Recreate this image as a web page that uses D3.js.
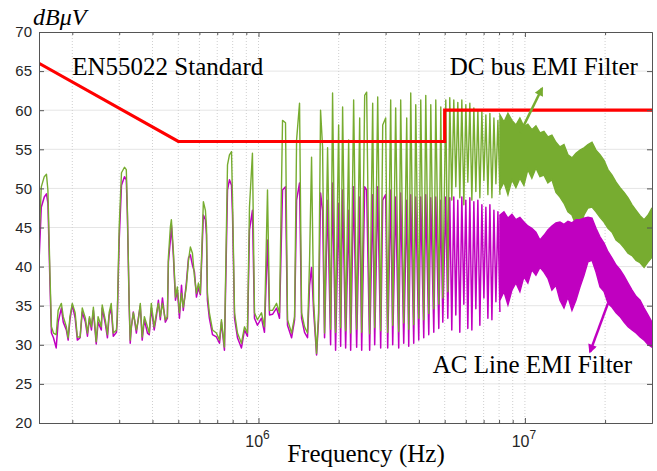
<!DOCTYPE html>
<html>
<head>
<meta charset="utf-8">
<script src="https://cdn.jsdelivr.net/npm/d3@7"></script>
<style>
  body { margin: 0; background: #fff; }
  svg { display: block; }
</style>
</head>
<body>
<svg id="chart" width="657" height="471"></svg>
<script>
// ---- data (frequency in MHz, level in dBuV) ----
const freqMHz = [
  0.150,0.153,0.157,0.160,0.162,0.165,0.167,0.170,0.174,0.177,
  0.182,0.185,0.190,0.193,0.196,0.200,0.205,0.209,0.214,0.218,
  0.224,0.228,0.232,0.236,0.240,0.246,0.250,0.257,0.259,0.266,
  0.271,0.275,0.280,0.285,0.293,0.295,0.300,0.306,0.314,0.319,
  0.322,0.327,0.330,0.333,0.339,0.348,0.354,0.360,0.366,0.373,
  0.383,0.389,0.396,0.406,0.414,0.421,0.428,0.436,0.447,0.455,
  0.459,0.467,0.471,0.479,0.488,0.496,0.505,0.514,0.522,0.536,
  0.546,0.555,0.565,0.575,0.585,0.595,0.605,0.611,0.621,0.632,
  0.638,0.643,0.654,0.672,0.695,0.714,0.726,0.745,0.765,0.778,
  0.792,0.799,0.813,0.834,0.863,0.886,0.909,0.925,0.949,0.966,
  0.991,1.026,1.053,1.081,1.100,1.129,1.169,1.199,1.231,1.263,
  1.285,1.331,1.366,1.390,1.426,1.451,1.489,1.528,1.555,1.582,
  1.610,1.652,1.681,1.710,1.740,1.770,
  1.817,1.865,1.897,1.947,1.999,2.034,2.069,2.124,2.180,2.218,
  2.276,2.336,2.398,2.440,2.504,2.547,2.614,2.683,2.730,2.802,
  2.875,2.926,3.002,3.055,3.135,3.190,3.273,3.360,3.418,3.509,
  3.601,3.664,3.728,3.826,3.893,3.995,4.065,4.172,4.245,4.357,
  4.433,4.550,4.629,4.751,4.834,4.918,5.047,5.136,
  5.224,5.316,5.409,5.504,5.600,5.698,5.798,5.899,6.002,6.107,
  6.214,6.323,6.433,6.545,6.660,6.776,6.895,7.016,7.138,7.263,
  7.390,7.519,7.651,7.784,7.920,8.059
];

const dcBusDb = [
  43.0,50.2,51.5,51.8,49.8,38.7,32.3,31.5,31.3,34.4,
  35.3,33.6,32.3,30.9,33.6,35.3,34.1,31.0,31.0,34.7,
  33.4,31.5,33.6,32.3,34.8,30.4,33.6,32.3,35.1,33.2,
  31.3,34.1,35.3,31.5,31.9,33.6,45.1,52.0,52.7,52.4,
  47.2,35.3,30.6,32.3,34.1,31.9,33.2,35.3,31.0,33.6,
  32.3,31.5,35.3,32.3,34.1,35.3,33.6,35.3,33.2,33.6,
  41.2,45.1,46.0,42.1,36.1,37.4,34.1,36.6,34.8,37.4,
  40.8,42.5,41.7,38.7,36.6,37.9,36.6,40.8,48.3,47.2,
  45.1,36.6,34.1,31.9,31.5,30.6,33.2,29.7,53.0,54.3,
  54.7,48.5,34.1,31.5,30.2,32.3,31.5,47.6,54.5,34.1,
  33.2,34.1,32.3,49.8,34.4,34.4,35.3,34.1,58.7,58.4,
  33.2,31.5,33.6,56.2,60.9,34.1,32.3,31.5,40.8,54.0,
  35.7,28.9,34.1,60.0,55.3,31.5,
  55.2,32.0,62.2,31.6,58.1,32.2,60.4,31.8,56.2,31.5,
  61.3,32.0,59.0,31.6,61.9,62.3,31.4,60.9,32.2,61.7,
  31.8,58.1,59.0,31.6,61.3,32.5,60.3,31.7,61.3,32.8,
  59.0,32.0,62.2,32.6,60.7,33.4,61.3,33.2,61.9,34.0,
  60.7,34.6,61.3,35.2,60.4,36.0,61.3,36.8,
  61.6,48.5,61.3,50.2,61.0,48.8,61.3,47.9,60.7,50.8,
  60.9,48.5,60.3,49.6,60.0,48.8,59.8,51.0,59.4,49.2,
  59.6,48.8,59.0,50.6,58.7,49.2
];

const acLineDb = [
  40.6,47.6,48.9,49.3,48.1,37.6,31.5,30.9,29.6,32.9,
  34.7,32.9,31.9,30.6,33.2,35.1,33.4,30.6,30.9,34.2,
  32.9,31.1,33.4,31.9,34.4,30.1,32.9,31.9,34.7,32.7,
  30.9,33.7,34.7,31.1,31.6,33.2,43.4,50.4,51.5,51.1,
  46.6,35.1,30.2,32.1,34.2,31.5,33.4,35.0,30.6,33.2,
  31.5,31.3,34.7,31.9,33.7,35.7,33.2,36.0,32.9,33.4,
  40.6,43.4,45.3,41.5,35.7,37.0,33.4,37.6,34.4,37.9,
  41.1,41.5,40.2,39.3,36.1,37.3,36.4,40.2,46.6,46.0,
  44.0,35.7,33.4,31.3,31.0,30.2,32.9,29.3,49.8,51.1,
  50.4,46.6,33.4,30.9,29.6,31.9,31.1,44.7,47.2,33.4,
  32.5,33.4,31.6,43.4,33.8,33.9,34.7,33.4,49.8,50.2,
  32.5,30.9,33.2,48.5,50.7,33.4,31.6,30.9,37.6,39.9,
  34.4,28.7,33.2,49.4,47.2,30.9,
  48.5,30.0,50.7,29.3,48.1,29.8,49.8,29.6,47.2,29.3,
  50.2,29.7,48.9,29.3,50.2,49.8,29.3,49.2,30.0,50.2,
  29.6,48.5,49.2,29.6,49.8,30.0,48.9,29.6,49.4,30.2,
  48.5,29.8,49.2,30.2,48.9,30.6,48.9,30.9,49.2,31.3,
  48.8,31.6,48.9,32.1,48.5,32.9,48.9,33.4,
  48.8,31.9,48.9,33.8,48.5,31.6,48.9,35.2,48.5,32.1,
  48.8,31.9,48.3,34.6,48.5,32.5,47.9,36.0,47.6,33.4,
  47.9,33.2,47.2,35.5,47.0,34.2
];

// above ~8 MHz the traces merge into a solid band: upper / lower envelope
const bandFreqMHz = [
  8.059,8.343,8.637,8.942,9.252,9.577,9.914,10.26,10.62,11.00,
  11.39,11.79,12.20,12.63,13.08,13.54,14.02,14.51,15.02,15.55,
  16.10,16.67,17.25,17.86,18.49,19.14,19.82,20.51,21.24,21.99,
  22.76,23.56,24.39,25.25,26.14,27.06,28.02,29.01,30.0
];
const dcBusHigh = [
  59.4,58.5,59.6,58.7,58.1,59.0,57.9,58.2,57.5,58.0,
  57.1,57.3,56.6,56.8,55.9,55.3,55.6,54.3,53.9,54.5,
  54.9,55.2,55.6,55.9,54.9,54.3,53.6,52.4,51.7,50.8,
  50.1,49.5,48.8,47.9,47.2,46.5,46.0,46.6,47.5
];
const dcBusLow = [
  49.8,50.8,49.2,51.1,50.1,51.3,50.4,52.4,51.3,52.6,
  51.5,51.7,50.7,51.1,49.5,48.9,48.1,47.0,46.6,45.3,
  45.1,46.6,47.5,47.6,47.0,46.3,45.7,44.9,44.4,43.4,
  43.0,42.4,41.7,41.4,40.8,40.5,39.9,40.6,41.2
];
const acLineHigh = [
  46.6,47.0,46.2,46.7,46.0,46.3,45.7,45.2,44.9,44.4,
  43.4,44.0,44.7,45.2,45.6,45.7,45.4,45.8,45.6,46.0,
  46.0,46.2,46.3,46.2,44.9,43.8,43.0,41.9,41.1,40.2,
  39.6,38.8,37.9,37.0,36.2,35.7,34.7,33.8,32.9
];
const acLineLow = [
  35.7,36.8,35.1,37.0,37.9,36.8,38.7,37.9,39.6,38.9,
  39.9,39.3,38.5,37.0,37.6,35.7,34.7,36.1,34.4,35.7,
  37.4,38.9,40.6,40.8,39.3,37.4,36.8,35.3,34.8,34.1,
  33.6,32.9,32.3,31.9,31.5,31.0,30.6,30.0,29.7
];

// EN55022 conducted limit
const limitFreqMHz = [0.15, 0.5, 5, 5, 30];
const limitDb = [66, 56, 56, 60, 60];

const yTicks = [20, 25, 30, 35, 40, 45, 50, 55, 60, 65, 70];
const xMajorTicks = [1, 10];
const xMajorExp = ['6', '7'];
const xMinorTicks = [0.2, 0.3, 0.4, 0.5, 0.6, 0.7, 0.8, 0.9, 2, 3, 4, 5, 6, 7, 8, 9, 20];

// ---- layout ----
const svg = d3.select('#chart');
const plot = { left: 39, right: 652, top: 32, bottom: 423 };
const x = d3.scaleLog().domain([0.15, 30]).range([plot.left, plot.right]);
const y = d3.scaleLinear().domain([20, 70]).range([plot.bottom, plot.top]);

const green = '#77ac30';
const magenta = '#c000c0';
const axisColor = '#555';

const defs = svg.append('defs');
defs.append('clipPath').attr('id', 'clip').append('rect')
    .attr('x', plot.left).attr('y', plot.top)
    .attr('width', plot.right - plot.left).attr('height', plot.bottom - plot.top);

[['arrowG', green], ['arrowM', magenta]].forEach(([id, col]) => {
    defs.append('marker')
        .attr('id', id)
        .attr('viewBox', '0 0 10 10')
        .attr('refX', 8).attr('refY', 5)
        .attr('markerWidth', 11).attr('markerHeight', 9)
        .attr('markerUnits', 'userSpaceOnUse')
        .attr('orient', 'auto')
        .append('path').attr('d', 'M0,0 L10,5 L0,10 z').attr('fill', col);
});

// grid
const grid = svg.append('g');
grid.selectAll('line.h').data(yTicks.slice(1, -1)).join('line')
    .attr('class', 'h')
    .attr('x1', plot.left).attr('x2', plot.right)
    .attr('y1', d => y(d)).attr('y2', d => y(d))
    .attr('stroke', '#e5e5e5').attr('stroke-width', 1);
grid.selectAll('line.v').data(xMinorTicks.concat(xMajorTicks)).join('line')
    .attr('class', 'v')
    .attr('x1', d => x(d)).attr('x2', d => x(d))
    .attr('y1', plot.top).attr('y2', plot.bottom)
    .attr('stroke', '#cfcfcf').attr('stroke-width', 1)
    .attr('stroke-dasharray', '1,2');

// series
const traces = svg.append('g').attr('clip-path', 'url(#clip)');
const line = d3.line().x(d => x(d[0])).y(d => y(d[1]));
const area = d3.area().x(d => x(d.f)).y0(d => y(d.lo)).y1(d => y(d.hi));

const dcBand = bandFreqMHz.map((f, i) => ({ f, hi: dcBusHigh[i], lo: dcBusLow[i] }));
const acBand = bandFreqMHz.map((f, i) => ({ f, hi: acLineHigh[i], lo: acLineLow[i] }));

traces.append('path').datum(dcBand).attr('d', area)
    .attr('fill', green).attr('stroke', green).attr('stroke-width', 1.4)
    .attr('stroke-linejoin', 'miter');
traces.append('path').datum(acBand).attr('d', area)
    .attr('fill', magenta).attr('stroke', magenta).attr('stroke-width', 1.4)
    .attr('stroke-linejoin', 'miter');

traces.append('path').datum(freqMHz.map((f, i) => [f, acLineDb[i]]))
    .attr('d', line).attr('fill', 'none')
    .attr('stroke', magenta).attr('stroke-width', 1.5).attr('stroke-linejoin', 'round');
traces.append('path').datum(freqMHz.map((f, i) => [f, dcBusDb[i]]))
    .attr('d', line).attr('fill', 'none')
    .attr('stroke', green).attr('stroke-width', 1.4).attr('stroke-linejoin', 'round');

traces.append('path').datum(limitFreqMHz.map((f, i) => [f, limitDb[i]]))
    .attr('d', line).attr('fill', 'none')
    .attr('stroke', '#ff0000').attr('stroke-width', 3.2);

// axes (ticks pointing inward, box all round)
const fontSans = "'Liberation Sans', Arial, Helvetica, sans-serif";
const fontSerif = "'Liberation Serif', 'Times New Roman', serif";

const axLeft = svg.append('g').attr('transform', `translate(${plot.left},0)`)
    .call(d3.axisLeft(y).tickValues(yTicks).tickSizeInner(-5).tickSizeOuter(0).tickPadding(7));
const axRight = svg.append('g').attr('transform', `translate(${plot.right},0)`)
    .call(d3.axisRight(y).tickValues(yTicks).tickSizeInner(-5).tickSizeOuter(0).tickFormat(''));
const axBottom = svg.append('g').attr('transform', `translate(0,${plot.bottom})`)
    .call(d3.axisBottom(x).tickValues(xMajorTicks).tickSizeInner(-5).tickSizeOuter(0).tickFormat(''));
const axTop = svg.append('g').attr('transform', `translate(0,${plot.top})`)
    .call(d3.axisTop(x).tickValues(xMajorTicks).tickSizeInner(-5).tickSizeOuter(0).tickFormat(''));
const axBottomMinor = svg.append('g').attr('transform', `translate(0,${plot.bottom})`)
    .call(d3.axisBottom(x).tickValues(xMinorTicks).tickSizeInner(-3).tickSizeOuter(0).tickFormat(''));
const axTopMinor = svg.append('g').attr('transform', `translate(0,${plot.top})`)
    .call(d3.axisTop(x).tickValues(xMinorTicks).tickSizeInner(-3).tickSizeOuter(0).tickFormat(''));

[axLeft, axRight, axBottom, axTop, axBottomMinor, axTopMinor].forEach(g => {
    g.selectAll('path.domain').attr('stroke', axisColor).attr('stroke-width', 1);
    g.selectAll('.tick line').attr('stroke', axisColor).attr('stroke-width', 1);
});
axLeft.selectAll('text')
    .attr('font-family', fontSans).attr('font-size', 15).attr('fill', '#262626');

// x tick labels as powers of ten
const xLabels = svg.append('g');
xMajorTicks.forEach((t, i) => {
    const txt = xLabels.append('text')
        .attr('x', x(t) - 1).attr('y', 447)
        .attr('text-anchor', 'middle')
        .attr('font-family', fontSans).attr('font-size', 16).attr('fill', '#262626');
    txt.append('tspan').text('10');
    txt.append('tspan').attr('dy', -8).attr('font-size', 12).text(xMajorExp[i]);
});

// axis titles
svg.append('text')
    .attr('x', 366).attr('y', 462).attr('text-anchor', 'middle')
    .style('font-family', fontSerif).attr('font-size', 25).attr('fill', '#000')
    .text('Frequency (Hz)');
svg.append('text')
    .attr('x', 33).attr('y', 25)
    .style('font-family', fontSerif).attr('font-style', 'italic')
    .attr('font-size', 24).attr('fill', '#000')
    .text('dBμV');

// annotations
const notes = svg.append('g')
    .style('font-family', fontSerif).attr('font-size', 25).attr('fill', '#000');
notes.append('text').attr('x', x(0.200)).attr('y', y(64.5)).text('EN55022 Standard');
notes.append('text').attr('x', x(5.22)).attr('y', y(64.5)).text('DC bus EMI Filter');
notes.append('text').attr('x', x(4.51)).attr('y', y(26.4)).text('AC Line EMI Filter');

svg.append('line')
    .attr('x1', x(9.6)).attr('y1', y(57.1))
    .attr('x2', x(11.6)).attr('y2', y(62.8))
    .attr('stroke', green).attr('stroke-width', 2.5)
    .attr('marker-end', 'url(#arrowG)');
svg.append('line')
    .attr('x1', x(20.5)).attr('y1', y(35.3))
    .attr('x2', x(17.56)).attr('y2', y(29.1))
    .attr('stroke', magenta).attr('stroke-width', 2.5)
    .attr('marker-end', 'url(#arrowM)');
</script>
</body>
</html>
